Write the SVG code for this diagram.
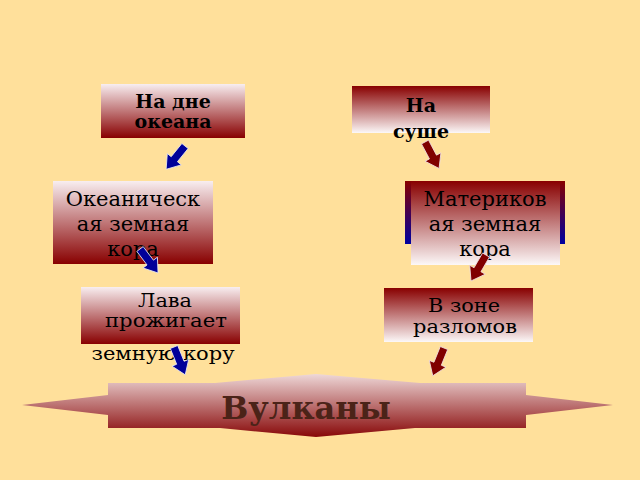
<svg xmlns="http://www.w3.org/2000/svg" xmlns:xlink="http://www.w3.org/1999/xlink" width="640" height="480" viewBox="0 0 640 480">
<defs>
<linearGradient id="gLightDark" x1="0" y1="0" x2="0" y2="1">
<stop offset="0" stop-color="#f8eef0"/>
<stop offset="1" stop-color="#880000"/>
</linearGradient>
<linearGradient id="gDarkLight" x1="0" y1="0" x2="0" y2="1">
<stop offset="0" stop-color="#880000"/>
<stop offset="1" stop-color="#fcf8f8"/>
</linearGradient>
<linearGradient id="gRedBlue" x1="0" y1="0" x2="0" y2="1">
<stop offset="0" stop-color="#880000"/>
<stop offset="1" stop-color="#0000a0"/>
</linearGradient>
<linearGradient id="gStar" x1="0" y1="0" x2="0" y2="1">
<stop offset="0" stop-color="#eed8d8"/>
<stop offset="1" stop-color="#880808"/>
</linearGradient>
<path id="arrow" d="M -4,0 L 4,0 L 4,17 L 9,17 L 0,30 L -9,17 L -4,17 Z"/>
<style>
.t { font-family: "DejaVu Serif", "Liberation Serif", serif; fill: #000; text-anchor: middle; }
.b { font-weight: bold; font-size: 19px; }
.r { font-size: 21px; }
.s { font-size: 18px; }
.blue { fill: #000099; stroke: #e8e8f0; stroke-width: 0.8; }
.red { fill: #800000; stroke: #f0e0e0; stroke-width: 0.8; }
</style>
</defs>
<rect x="0" y="0" width="640" height="480" fill="#FFE09B"/>

<g id="node-dno">
<rect x="101" y="84" width="144" height="54" fill="url(#gLightDark)"/>
<text class="t b" x="173" y="108">На дне</text>
<text class="t b" x="173" y="128">океана</text>
</g>

<g id="node-sushe">
<rect x="352" y="86" width="138" height="47" fill="url(#gDarkLight)"/>
<text class="t b" x="421" y="112">На</text>
<text class="t b" x="421" y="138">суше</text>
</g>

<g id="node-okean-kora">
<rect x="53" y="181" width="160" height="83" fill="url(#gLightDark)"/>
<text class="t r" x="133" y="206">Океаническ</text>
<text class="t r" x="133" y="231">ая земная</text>
<text class="t r" x="133" y="256">кора</text>
</g>

<g id="node-mater-kora">
<rect x="405" y="181" width="160" height="63" fill="url(#gRedBlue)"/>
<rect x="411" y="181" width="149" height="84" fill="url(#gDarkLight)"/>
<text class="t r" x="485" y="206">Материков</text>
<text class="t r" x="485" y="231">ая земная</text>
<text class="t r" x="485" y="256">кора</text>
</g>

<g id="node-lava">
<rect x="81" y="287" width="159" height="57" fill="url(#gLightDark)"/>
<text class="t s" x="165" y="307" textLength="54" lengthAdjust="spacingAndGlyphs">Лава</text>
<text class="t s" x="166" y="327" textLength="122" lengthAdjust="spacingAndGlyphs">прожигает</text>
<text class="t s" x="163" y="360" textLength="143" lengthAdjust="spacingAndGlyphs">земную кору</text>
</g>

<g id="node-razlom">
<rect x="384" y="288" width="149" height="54" fill="url(#gDarkLight)"/>
<text class="t s" x="464" y="312" textLength="72" lengthAdjust="spacingAndGlyphs">В зоне</text>
<text class="t s" x="465" y="333" textLength="104" lengthAdjust="spacingAndGlyphs">разломов</text>
</g>

<g id="node-vulkany">
<polygon points="22,405 108,395 108,383 215,383 316,374 420,383 526,383 526,395 613,405 526,415 526,428 415,428 316,437 220,428 108,428 108,415" fill="url(#gStar)"/>
<text x="306" y="419" font-family="DejaVu Serif, Liberation Serif, serif" font-weight="bold" font-size="32" fill="#4b2318" text-anchor="middle">Вулканы</text>
</g>

<g id="connectors">
<use xlink:href="#arrow" class="blue" transform="translate(185,146) rotate(39)"/>
<use xlink:href="#arrow" class="red" transform="translate(425,142) rotate(-28)"/>
<use xlink:href="#arrow" class="blue" transform="translate(140,249) rotate(-37)"/>
<use xlink:href="#arrow" class="red" transform="translate(486,255) rotate(30)"/>
<use xlink:href="#arrow" class="blue" transform="translate(174,347) rotate(-22)"/>
<use xlink:href="#arrow" class="red" transform="translate(444,348) rotate(22)"/>
</g>
</svg>
